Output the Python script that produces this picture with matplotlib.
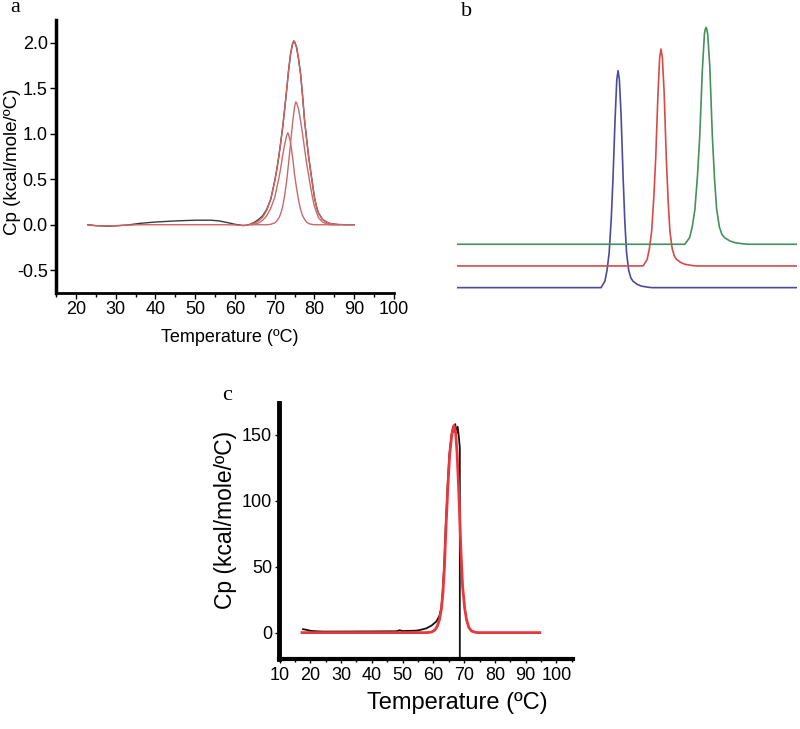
import matplotlib
matplotlib.use("Agg")
import matplotlib.pyplot as plt
from matplotlib.ticker import MultipleLocator, FormatStrFormatter

plt.rcParams['font.family'] = ['Liberation Sans', 'DejaVu Sans']
plt.rcParams['axes.unicode_minus'] = False

# ---- panel a: DSC scan, raw trace + fit and two fitted components ----
a_temp = [23, 25, 28, 30, 33, 36, 40, 45, 50, 54,
          56, 58, 60, 62, 63, 64, 65, 66, 67, 68,
          69, 70, 70.5, 71, 71.5, 72, 72.5, 73, 73.5, 74,
          74.5, 74.8, 75, 75.5, 76, 76.5, 77, 77.5, 78, 78.5,
          79, 79.5, 80, 80.5, 81, 82, 83, 84, 86, 88, 90]
a_cp_raw = [0.0, -0.01, -0.015, -0.012, -0.003, 0.015, 0.03, 0.042, 0.05, 0.05,
            0.042, 0.025, 0.005, -0.008, -0.005, 0.008, 0.03, 0.06, 0.1, 0.17,
            0.28, 0.48, 0.6, 0.74, 0.9, 1.07, 1.27, 1.48, 1.7, 1.88,
            1.99, 2.02, 2.01, 1.95, 1.82, 1.66, 1.42, 1.15, 0.95, 0.76,
            0.6, 0.45, 0.3, 0.2, 0.13, 0.06, 0.03, 0.012, 0.002, 0.0, 0.0]
a_cp_fit = [0.0, -0.01, -0.012, -0.01, -0.004, 0.0, 0.0, 0.0, 0.0, 0.0,
            0.0, 0.0, -0.002, -0.008, -0.006, 0.004, 0.02, 0.045, 0.085, 0.16,
            0.28, 0.48, 0.6, 0.74, 0.9, 1.07, 1.27, 1.48, 1.7, 1.88,
            1.99, 2.02, 2.01, 1.95, 1.82, 1.66, 1.42, 1.15, 0.95, 0.76,
            0.6, 0.45, 0.3, 0.2, 0.13, 0.06, 0.03, 0.012, 0.002, 0.0, 0.0]

comp_temp = [64, 66, 67, 68, 69, 70, 70.5, 71, 71.5, 72,
             72.5, 73, 73.3, 73.5, 74, 74.5, 75, 75.3, 75.5, 76,
             76.5, 77, 77.5, 78, 78.5, 79, 79.5, 80, 81, 82,
             83, 84, 86]
comp1 = [0.0, 0.02, 0.05, 0.1, 0.18, 0.3, 0.4, 0.5, 0.62, 0.76,
         0.88, 0.98, 1.01, 0.99, 0.9, 0.74, 0.55, 0.46, 0.4, 0.27,
         0.17, 0.1, 0.06, 0.03, 0.015, 0.007, 0.003, 0.0, 0.0, 0.0,
         0.0, 0.0, 0.0]
comp2 = [0.0, 0.0, 0.0, 0.0, 0.005, 0.02, 0.04, 0.07, 0.12, 0.2,
         0.32, 0.48, 0.6, 0.68, 0.9, 1.12, 1.3, 1.35, 1.34, 1.27,
         1.14, 1.0, 0.84, 0.68, 0.55, 0.42, 0.3, 0.2, 0.08, 0.03,
         0.01, 0.0, 0.0]

# ---- panel b: three stacked thermograms (no axes) ----
b_offsets = [0.0, 0.1, 0.2]
b_blue_x = [20, 53.9, 54.8, 55.3, 55.8, 56.3, 56.7, 57.2, 57.6, 57.9, 58.2, 58.6,
            59.1, 59.5, 59.9, 60.4, 60.9, 61.4, 62.4, 63.4, 64.9, 65.9, 100]
b_blue_y = [0, 0, 0.03, 0.08, 0.16, 0.32, 0.5, 0.78, 0.96, 1.0, 0.96, 0.8,
            0.5, 0.3, 0.16, 0.08, 0.045, 0.03, 0.015, 0.007, 0.002, 0, 0]
b_red_x = [20, 63.8, 64.74, 65.27, 65.8, 66.32, 66.76, 67.26, 67.68, 68.0, 68.32, 68.74,
           69.24, 69.68, 70.1, 70.63, 71.15, 71.68, 72.73, 73.78, 75.35, 76.4, 100]
b_red_y = [0, 0, 0.03, 0.08, 0.16, 0.32, 0.5, 0.78, 0.96, 1.0, 0.96, 0.8,
           0.5, 0.3, 0.16, 0.08, 0.045, 0.03, 0.015, 0.007, 0.002, 0, 0]
b_green_x = [20, 73.6, 74.72, 75.35, 75.97, 76.6, 77.12, 77.72, 78.22, 78.4, 78.6, 78.8,
             78.98, 79.48, 80.08, 80.6, 81.1, 81.73, 82.35, 82.98, 84.23, 85.48, 87.35,
             88.6, 100]
b_green_y = [0, 0, 0.03, 0.08, 0.16, 0.32, 0.5, 0.8, 0.97, 0.99, 1.0, 0.99,
             0.97, 0.82, 0.5, 0.3, 0.16, 0.08, 0.045, 0.03, 0.015, 0.007, 0.002,
             0, 0]

# ---- panel c: raw scan (black) and fit (red) ----
c_raw_x = [17.6, 19, 20, 22, 24, 30, 40, 48, 49, 50, 54.6, 56, 57.8, 59.5, 61.0,
           62.0, 62.6, 63.0, 63.5, 64.0, 64.6, 65.2, 65.9, 66.4, 66.8, 67.1, 67.5,
           67.9, 68.3, 68.6, 68.6]
c_raw_y = [2.6, 2.0, 1.3, 1.0, 0.8, 0.8, 0.9, 1.0, 1.8, 1.2, 1.5, 2.2, 3.3, 5.5, 8.5,
           13, 19, 30, 50, 80, 110, 135, 150, 156, 152, 158, 151,
           156, 148, 140, -20]
c_fit_x = [17.3, 30, 40, 50, 58, 59.5, 60.5, 61.3, 62.0, 62.6, 63.1, 63.6, 64.1,
           64.7, 65.3, 66.0, 66.7, 67.2, 67.7, 68.2, 68.6, 69.0, 69.5, 70.2, 70.8,
           71.5, 72.4, 73.5, 74.5, 80, 94.6]
c_fit_y = [0, 0, 0, 0, 0, 0.5, 2, 5, 10, 18, 30, 50, 80,
           110, 135, 150, 157, 153, 136, 110, 85, 60, 35, 18, 9.6,
           4, 1.2, 0.3, 0, 0, 0]

fig = plt.figure(figsize=(8, 7.29), dpi=100)
W, H = 800, 729


def box(x0, y0, x1, y1):
    return [x0 / W, 1 - y1 / H, (x1 - x0) / W, (y1 - y0) / H]


# panel a
ax = fig.add_axes(box(56, 20, 394, 293))
ax.plot(a_temp, a_cp_raw, color='#3a3a3a', lw=1.0)
ax.plot(a_temp, a_cp_fit, color='#d46060', lw=1.0)
ax.plot(comp_temp, comp1, color='#c86a6a', lw=1.0)
ax.plot(comp_temp, comp2, color='#c86a6a', lw=1.0)
ax.set_xlim(15, 100)
ax.set_ylim(-0.75, 2.25)
ax.xaxis.set_minor_locator(MultipleLocator(5))
ax.set_xticks(range(20, 101, 10))
ax.set_yticks([-0.5, 0.0, 0.5, 1.0, 1.5, 2.0])
ax.yaxis.set_major_formatter(FormatStrFormatter('%.1f'))
for s in ['top', 'right']:
    ax.spines[s].set_visible(False)
ax.spines['left'].set_linewidth(2.5)
ax.spines['bottom'].set_linewidth(2.0)
ax.tick_params(axis='both', which='major', direction='out', length=4, width=1,
               labelsize=13, pad=2)
ax.tick_params(axis='x', which='minor', direction='out', length=3, width=1)
fig.text(230 / W, 1 - 337 / H, 'Temperature (ºC)', fontsize=13, ha='center', va='center')
fig.text(13 / W, 1 - 162 / H, 'Cp (kcal/mole/ºC)', fontsize=13.5, ha='center',
         va='center', rotation=90)
fig.text(15 / W, 1 - 8 / H, 'a', family='Liberation Serif', fontsize=16,
         ha='center', va='center')

# panel b
bx = fig.add_axes(box(457, 20, 797, 300))
bx.plot(b_blue_x, [v + b_offsets[0] for v in b_blue_y], color='#4b4b9e', lw=1.2)
bx.plot(b_red_x, [v + b_offsets[1] for v in b_red_y], color='#d84a4a', lw=1.2)
bx.plot(b_green_x, [v + b_offsets[2] for v in b_green_y], color='#46905a', lw=1.2)
bx.set_xlim(20, 100)
bx.set_ylim(-0.057, 1.234)
bx.axis('off')
fig.text(467 / W, 1 - 12 / H, 'b', family='Liberation Serif', fontsize=16,
         ha='center', va='center')

# panel c
cx = fig.add_axes(box(279, 403, 573, 659))
cx.plot(c_raw_x, c_raw_y, color='#111111', lw=1.3)
cx.plot(c_fit_x, c_fit_y, color='#e8383c', lw=2.0)
cx.set_xlim(9.8, 105.4)
cx.set_ylim(-20, 174)
cx.set_xticks(range(10, 101, 10))
cx.xaxis.set_minor_locator(MultipleLocator(5))
cx.set_yticks([0, 50, 100, 150])
for s in ['top', 'right']:
    cx.spines[s].set_visible(False)
cx.spines['left'].set_linewidth(3.5)
cx.spines['bottom'].set_linewidth(3.0)
cx.tick_params(axis='both', which='major', direction='out', length=3, width=1,
               labelsize=13, pad=3)
cx.tick_params(axis='y', which='major', pad=2)
cx.tick_params(axis='x', which='minor', direction='out', length=2, width=1)
fig.text(457 / W, 1 - 703 / H, 'Temperature (ºC)', fontsize=17, ha='center', va='center')
fig.text(226 / W, 1 - 520 / H, 'Cp (kcal/mole/ºC)', fontsize=16.5, ha='center',
         va='center', rotation=90)
fig.text(227 / W, 1 - 395 / H, 'c', family='Liberation Serif', fontsize=16,
         ha='center', va='center')

fig.savefig('out.png', dpi=100)
